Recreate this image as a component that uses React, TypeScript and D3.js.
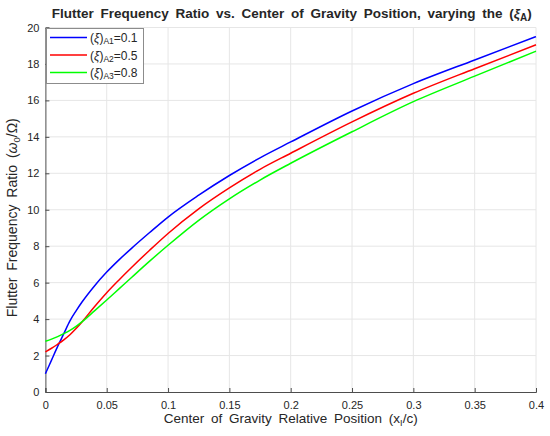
import React, { useEffect, useRef } from 'react';
import * as d3 from 'd3';

// x positions (x_I / c) sampled off the figure
const cgPosition = [0, 0.005, 0.01, 0.015, 0.02, 0.025, 0.03, 0.04, 0.05, 0.06, 0.07, 0.085, 0.1, 0.125, 0.15, 0.175, 0.2, 0.25, 0.3, 0.35, 0.4];
const ratioA1 = [1.0, 1.75, 2.5, 3.2, 3.9, 4.45, 4.95, 5.82, 6.58, 7.25, 7.87, 8.75, 9.6, 10.8, 11.88, 12.85, 13.72, 15.42, 16.92, 18.22, 19.5];
const ratioA2 = [2.2, 2.4, 2.62, 2.86, 3.14, 3.48, 3.86, 4.68, 5.45, 6.15, 6.82, 7.78, 8.7, 10.05, 11.2, 12.22, 13.1, 14.82, 16.39, 17.74, 19.05];
const ratioA3 = [2.78, 2.9, 3.04, 3.2, 3.38, 3.6, 3.86, 4.45, 5.05, 5.66, 6.27, 7.18, 8.05, 9.42, 10.6, 11.63, 12.55, 14.28, 15.93, 17.33, 18.7];

const seriesSub = ['A1', 'A2', 'A3'];
const seriesValue = ['0.1', '0.5', '0.8'];
const seriesColors = ['#0000ff', '#ff0000', '#00ff00'];

const xTicks = [0, 0.05, 0.1, 0.15, 0.2, 0.25, 0.3, 0.35, 0.4];
const yTicks = [0, 2, 4, 6, 8, 10, 12, 14, 16, 18, 20];

const App: React.FC = () => {
  const svgRef = useRef<SVGSVGElement>(null);

  useEffect(() => {
    if (!svgRef.current) return;
    const width = 550;
    const height = 436;
    const margin = { top: 27.5, right: 14, bottom: 44, left: 45.4 };
    const font = "'Liberation Sans', Arial, sans-serif";

    const svg = d3.select(svgRef.current);
    svg.selectAll('*').remove();
    svg.attr('width', width).attr('height', height);

    const x = d3.scaleLinear().domain([0, 0.4]).range([margin.left, width - margin.right]);
    const y = d3.scaleLinear().domain([0, 20]).range([height - margin.bottom, margin.top]);

    svg.append('rect').attr('width', width).attr('height', height).attr('fill', '#fff');

    // grid
    const grid = svg.append('g');
    grid.selectAll('line.vx').data(xTicks.slice(1)).join('line')
      .attr('x1', d => x(d)).attr('x2', d => x(d))
      .attr('y1', y(0)).attr('y2', y(20))
      .attr('stroke', '#e6e6e6').attr('stroke-width', 1);
    grid.selectAll('line.hy').data(yTicks.slice(1)).join('line')
      .attr('x1', x(0)).attr('x2', x(0.4))
      .attr('y1', d => y(d)).attr('y2', d => y(d))
      .attr('stroke', '#e6e6e6').attr('stroke-width', 1);

    // axes
    const xAxis = svg.append('g')
      .attr('transform', `translate(0,${y(0)})`)
      .call(d3.axisBottom(x).tickValues(xTicks).tickSize(-4).tickPadding(8)
        .tickFormat(d => String(+d)));
    const yAxis = svg.append('g')
      .attr('transform', `translate(${x(0)},0)`)
      .call(d3.axisLeft(y).tickValues(yTicks).tickSize(-4).tickPadding(6));
    [xAxis, yAxis].forEach(a => {
      a.select('.domain').attr('stroke', '#4d4d4d');
      a.selectAll('.tick line').attr('stroke', '#4d4d4d');
      a.selectAll('.tick text').attr('fill', '#262626')
        .style('font-family', font).style('font-size', '11px');
    });
    xAxis.selectAll('.tick text').attr('dy', '0.85em');

    // lines
    const all = [ratioA1, ratioA2, ratioA3];
    const line = d3.line<number>()
      .x((_, i) => x(cgPosition[i]))
      .y(d => y(d))
      .curve(d3.curveMonotoneX);
    all.forEach((vals, i) => {
      svg.append('path')
        .datum(vals)
        .attr('fill', 'none')
        .attr('stroke', seriesColors[i])
        .attr('stroke-width', 1.5)
        .attr('d', line);
    });

    // title
    const title = svg.append('text')
      .attr('x', (x(0) + x(0.4)) / 2 + 1)
      .attr('y', 18)
      .attr('text-anchor', 'middle')
      .style('font-family', font)
      .style('font-size', '13.5px')
      .style('font-weight', 'bold')
      .style('word-spacing', '3px')
      .attr('fill', '#262626');
    title.append('tspan').text('Flutter Frequency Ratio vs. Center of Gravity Position, varying the (');
    title.append('tspan').style('font-style', 'italic').text('ξ');
    title.append('tspan').attr('dy', 3).style('font-size', '10px').text('A');
    title.append('tspan').attr('dy', -3).text(')');

    // x label
    const xl = svg.append('text')
      .attr('x', (x(0) + x(0.4)) / 2)
      .attr('y', 423)
      .attr('text-anchor', 'middle')
      .style('font-family', font).style('font-size', '13.5px')
      .style('word-spacing', '3px')
      .attr('fill', '#262626');
    xl.append('tspan').text('Center of Gravity Relative Position (x');
    xl.append('tspan').attr('dy', 3).style('font-size', '9px').text('I');
    xl.append('tspan').attr('dy', -3).text('/c)');

    // y label
    const yl = svg.append('text')
      .attr('transform', `translate(16.5,${(y(0) + y(20)) / 2 + 8}) rotate(-90)`)
      .attr('text-anchor', 'middle')
      .style('font-family', font).style('font-size', '14px')
      .style('word-spacing', '3px')
      .attr('fill', '#262626');
    yl.append('tspan').text('Flutter Frequency Ratio (');
    yl.append('tspan').style('font-style', 'italic').text('ω');
    yl.append('tspan').attr('dy', 3).style('font-size', '9.5px').text('0');
    yl.append('tspan').attr('dy', -3).text('/Ω)');

    // legend
    const lg = svg.append('g');
    lg.append('rect')
      .attr('x', 46.5).attr('y', 28.5).attr('width', 97).attr('height', 55)
      .attr('fill', '#fff').attr('stroke', '#8c8c8c').attr('stroke-width', 1);
    seriesSub.forEach((sub, i) => {
      const cy = 37.5 + i * 17.5;
      lg.append('line')
        .attr('x1', 50).attr('x2', 87).attr('y1', cy).attr('y2', cy)
        .attr('stroke', seriesColors[i]).attr('stroke-width', 1.5);
      const t = lg.append('text')
        .attr('x', 90).attr('y', cy + 4.5)
        .style('font-family', font).style('font-size', '12px')
        .attr('fill', '#262626');
      t.append('tspan').text('(');
      t.append('tspan').style('font-style', 'italic').text('ξ');
      t.append('tspan').text(')');
      t.append('tspan').attr('dy', 2).style('font-size', '8.5px').text(sub);
      t.append('tspan').attr('dy', -2).text('=' + seriesValue[i]);
    });
  }, []);

  return (
    <div style={{ position: 'absolute', left: 0, top: 0 }}>
      <svg ref={svgRef} style={{ display: 'block' }}></svg>
    </div>
  );
};

export default App;
